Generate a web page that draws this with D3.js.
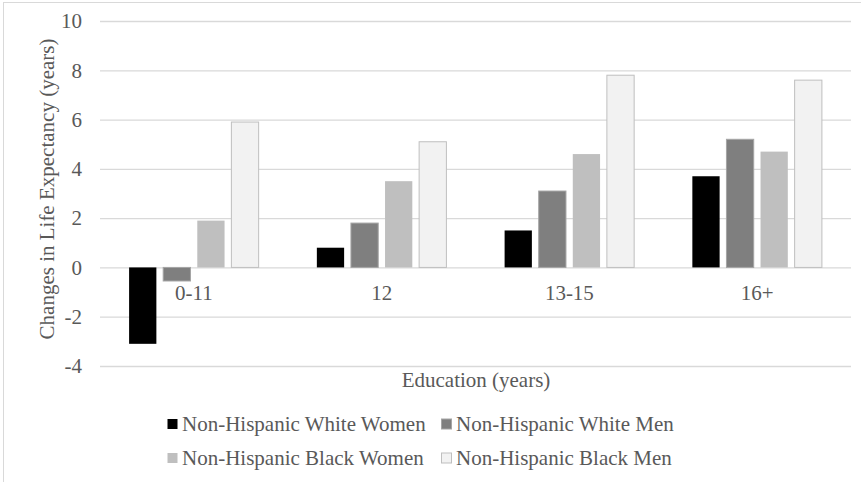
<!DOCTYPE html>
<html>
<head>
<meta charset="utf-8">
<script src="https://cdn.jsdelivr.net/npm/d3@7"></script>
<style>
  html, body { margin: 0; padding: 0; background: #fff; }
  svg { display: block; }
  text { font-family: "Liberation Serif", "Times New Roman", serif; fill: #595959; }
</style>
</head>
<body>
<svg id="chart" width="861" height="482"></svg>
<script>
// Education groups
const categories = ["0-11", "12", "13-15", "16+"];
// Series names
const seriesNames = [
  "Non-Hispanic White Women",
  "Non-Hispanic White Men",
  "Non-Hispanic Black Women",
  "Non-Hispanic Black Men"
];
// Change in life expectancy (years), one array per series, in category order
const whiteWomen = [-3.1, 0.8, 1.5, 3.7];
const whiteMen   = [-0.55, 1.8, 3.1, 5.2];
const blackWomen = [1.9, 3.5, 4.6, 4.7];
const blackMen   = [5.9, 5.1, 7.8, 7.6];
const yTicks = [-4, -2, 0, 2, 4, 6, 8, 10];

const seriesValues = [whiteWomen, whiteMen, blackWomen, blackMen];
const fills   = ["#000000", "#7f7f7f", "#bfbfbf", "#f2f2f2"];
const strokes = ["none", "#a5a5a5", "none", "#bfbfbf"];
const FONT = "21px";

const svg = d3.select("#chart");

// outer chart frame
svg.append("rect")
  .attr("x", 3.5).attr("y", 2.5)
  .attr("width", 870).attr("height", 500)
  .attr("fill", "none").attr("stroke", "#d9d9d9").attr("stroke-width", 1);

const plot = { left: 100, right: 851, top: 21, bottom: 366 };

const y = d3.scaleLinear().domain([-4, 10]).range([plot.bottom, plot.top]);
const x0 = d3.scaleBand().domain(categories).range([plot.left, plot.right]).paddingInner(0.31).paddingOuter(0.155);
const x1 = d3.scaleBand().domain(d3.range(4)).range([0, x0.bandwidth()]).paddingInner(0.2);

// gridlines
const grid = svg.append("g")
  .attr("transform", `translate(${plot.left},0)`)
  .call(d3.axisLeft(y).tickValues(yTicks).tickSize(-(plot.right - plot.left)).tickFormat(""));
grid.select(".domain").remove();
grid.selectAll("line").attr("stroke", "#d9d9d9").attr("stroke-width", 1.3);

// y tick labels (plain hyphen for negatives)
const yAxis = svg.append("g")
  .attr("transform", `translate(${plot.left},0)`)
  .call(d3.axisLeft(y).tickValues(yTicks).tickSize(0).tickPadding(18).tickFormat(d => String(d)));
yAxis.select(".domain").remove();
yAxis.selectAll("text")
  .attr("font-size", FONT)
  .style("font-family", "Liberation Serif, serif")
  .attr("fill", "#595959");

// bars
const groups = svg.append("g").selectAll("g")
  .data(categories)
  .join("g")
  .attr("transform", d => `translate(${x0(d)},0)`);

groups.selectAll("rect")
  .data((c, ci) => seriesValues.map((vals, si) => ({ si, v: vals[ci] })))
  .join("rect")
  .attr("x", d => x1(d.si))
  .attr("width", x1.bandwidth())
  .attr("y", d => y(Math.max(0, d.v)))
  .attr("height", d => Math.abs(y(d.v) - y(0)))
  .attr("fill", d => fills[d.si])
  .attr("stroke", d => strokes[d.si])
  .attr("stroke-width", 1);

// category labels sit just below the zero line
const xAxis = svg.append("g")
  .attr("transform", `translate(0,${y(0)})`)
  .call(d3.axisBottom(x0).tickSize(0).tickPadding(17.5));
xAxis.select(".domain").remove();
xAxis.selectAll("text")
  .attr("font-size", FONT)
  .style("font-family", "Liberation Serif, serif")
  .attr("fill", "#595959");

// axis titles
svg.append("text")
  .attr("x", 476).attr("y", 387)
  .attr("text-anchor", "middle")
  .attr("font-size", FONT)
  .text("Education (years)");

svg.append("text")
  .attr("transform", `translate(53.5,189) rotate(-90)`)
  .attr("text-anchor", "middle")
  .attr("font-size", FONT)
  .text("Changes in Life Expectancy (years)");

// legend in two rows of two
const legendPos = [
  { x: 167, y: 424 }, { x: 441, y: 424 },
  { x: 167, y: 458 }, { x: 441, y: 458 }
];
const legend = svg.append("g").selectAll("g")
  .data(seriesNames)
  .join("g")
  .attr("transform", (d, i) => `translate(${legendPos[i].x},${legendPos[i].y})`);
legend.append("rect")
  .attr("x", 0.5).attr("y", -5)
  .attr("width", 10).attr("height", 10)
  .attr("fill", (d, i) => fills[i])
  .attr("stroke", (d, i) => strokes[i]);
legend.append("text")
  .attr("x", 15).attr("y", 7)
  .attr("font-size", FONT)
  .text(d => d);
</script>
</body>
</html>
